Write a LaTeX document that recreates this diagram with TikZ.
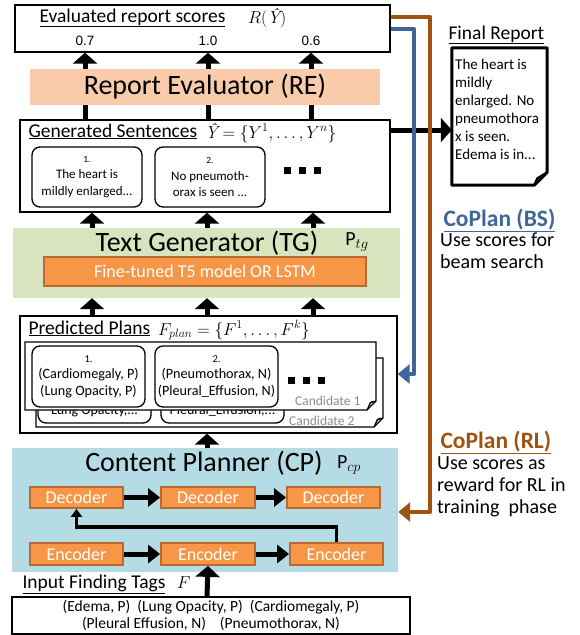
\documentclass[tikz,border=0pt]{standalone}
\usepackage{fontspec}
\setmainfont{Carlito}
\newfontfamily\arialf{Liberation Sans}
\newfontfamily\lmr{Latin Modern Roman}
\usetikzlibrary{arrows.meta}
\newcommand{\fsz}[2]{\fontsize{#1}{#2}\selectfont}
\newcommand{\Yhat}{\mbox{\lmr\itshape Ŷ}}
\definecolor{refill}{HTML}{F9CBAA}
\definecolor{tgfill}{HTML}{D8E4BE}
\definecolor{cpfill}{HTML}{B5DBE5}
\definecolor{orfill}{HTML}{F79646}
\definecolor{ordraw}{HTML}{B96A30}
\definecolor{brn}{HTML}{A0520F}
\definecolor{blu}{HTML}{3E6698}
\tikzset{
  frame/.style={draw=black, line width=1.3pt, fill=white, inner sep=0pt},
  rbox/.style={draw=black, line width=1.3pt, fill=white, rounded corners=8pt, inner sep=0pt, align=center},
  bigarr/.style={line width=5pt, -{Triangle[width=24pt,length=11pt]}},
  midarr/.style={line width=5pt, -{Triangle[width=18pt,length=12pt]}},
  thinarr/.style={line width=3.5pt, -{Triangle[width=11pt,length=8pt]}},
  fbarr/.style={line width=4.5pt, line join=round, -{Triangle[width=19pt,length=12pt]}},
  orbox/.style={fill=orfill, draw=ordraw, line width=1.8pt, text=white, inner sep=0pt, font=\fsz{18}{22}},
  sheet/.style={draw=black, line width=1.2pt, fill=white},
  ttl/.style={anchor=base west, font=\fsz{19.5}{22}},
  mth/.style={anchor=base west, inner sep=0pt, font=\fsz{17.5}{20}},
  big/.style={font=\fsz{28}{32}},
}
\begin{document}
\begin{tikzpicture}[x=1pt,y=-1pt]
\useasboundingbox (0,0) rectangle (579,635);

% ---------- coordinates for columns ----------
\coordinate (s1x) at (85,0);
\coordinate (s2x) at (208,0);
\coordinate (s3x) at (311,0);
\coordinate (t1x) at (92,0);
\coordinate (t2x) at (207,0);
\coordinate (t3x) at (313,0);

% ---------- scores box ----------
\node[frame, minimum width=375pt, minimum height=47pt] (scores) at (202.5,28.5) {};
\node[ttl] (scoresttl) at (36,22) {\underline{Evaluated report scores}};
\node[mth] (rhat) at (248,23) {$R(\Yhat)$};
\node[font=\arialf\fsz{13.5}{15}] (sc1) at (85,41) {0.7};
\node[font=\arialf\fsz{13.5}{15}] (sc2) at (208,41) {1.0};
\node[font=\arialf\fsz{13.5}{15}] (sc3) at (311,41) {0.6};

% ---------- report evaluator ----------
\node[fill=refill, minimum width=350pt, minimum height=36pt, big, inner sep=0pt] (re) at (205,87) {Report Evaluator (RE)};

% ---------- generated sentences ----------
\node[frame, minimum width=370pt, minimum height=92pt] (gen) at (205,166) {};
\node[ttl] (genttl) at (25,137) {\underline{Generated Sentences}};
\node[mth] (genmath) at (205,138) {$\Yhat = \{Y^1, \ldots, Y^n\}$};
\node[rbox, minimum width=110pt, minimum height=60pt, font=\fsz{13}{16.5}] (sent1) at (87,177) {{\fsz{9.5}{16.5}1.}\\The heart is\\mildly enlarged...};
\node[rbox, minimum width=110pt, minimum height=60pt, font=\fsz{13}{16.5}] (sent2) at (210,177) {{\fsz{9.5}{16.5}2.}\\No pneumoth-\\orax is seen ...};
\foreach \dx in {287,302,317} \fill (\dx-3.5,166.5) rectangle (\dx+3.5,173.5);

\foreach \c in {s1x,s2x,s3x} {
  \draw[line width=5pt] (gen.north -| \c) -- (re.south -| \c);
  \draw[bigarr] (re.north -| \c) -- (scores.south -| \c);
}

% ---------- text generator ----------
\node[fill=tgfill, minimum width=387pt, minimum height=70pt, inner sep=0pt] (tg) at (206.5,263) {};
\node[big] (tgttl) at (207,243) {Text Generator (TG)};
\node[font=\fsz{20}{22}] (ptg) at (357,242) {$\mathrm{P}_{tg}$};
\node[orbox, minimum width=322pt, minimum height=29pt] (t5) at (205,271.5) {Fine-tuned T5 model OR LSTM};
\foreach \c in {t1x,t2x,t3x} \draw[bigarr] (tg.north -| \c) -- (gen.south -| \c);

% ---------- predicted plans ----------
\node[frame, minimum width=377pt, minimum height=117pt] (plans) at (208.5,374.5) {};
\foreach \c in {t1x,t2x,t3x} \draw[bigarr] (plans.north -| \c) -- (tg.south -| \c);
\node[ttl] (planttl) at (25,334) {\underline{Predicted Plans}};
\node[mth] (planmath) at (158,335) {$F_{plan} = \{F^1, \ldots, F^k\}$};

% candidate 2 sheet
\draw[sheet] (36,358) -- (383,358) -- (383,418) -- (374,427) -- (36,427) -- cycle;
\filldraw[line width=1pt, fill=black] (374,427) -- (377,420) -- (383,418) -- (378,419) -- cycle;
\node[rbox, minimum width=113pt, minimum height=61pt] (p2a) at (94.5,392.5) {};
\node[rbox, minimum width=123pt, minimum height=61pt] (p2b) at (222.5,392.5) {};
\node[font=\fsz{14}{16}] (p2atext) at (94.5,410.5) {Lung Opacity,...};
\node[font=\fsz{14}{16}] (p2btext) at (222.5,410.5) {Pleural\_Effusion,...};
\node[anchor=east, text=black!45, font=\fsz{13.5}{15}] (c2lbl) at (358,421) {Candidate 2};

% candidate 1 sheet
\draw[sheet] (25,342) -- (376,342) -- (376,401) -- (367,410) -- (25,410) -- cycle;
\filldraw[line width=1pt, fill=black] (367,410) -- (370,403) -- (376,401) -- (371,402) -- cycle;
\node[rbox, minimum width=113pt, minimum height=61pt, font=\fsz{14.2}{16.5}] (p1a) at (88.5,376.5) {{\fsz{10.5}{16.5}1.}\\(Cardiomegaly, P)\\(Lung Opacity, P)};
\node[rbox, minimum width=123pt, minimum height=61pt, font=\fsz{14.2}{16.5}] (p1b) at (216.5,376.5) {{\fsz{10.5}{16.5}2.}\\(Pneumothorax, N)\\(Pleural\_Effusion, N)};
\node[anchor=east, text=black!45, font=\fsz{13.5}{15}] (c1lbl) at (364,401) {Candidate 1};
\foreach \dx in {291,306,321} \fill (\dx-3.5,376.5) rectangle (\dx+3.5,383.5);

% ---------- content planner ----------
\node[fill=cpfill, minimum width=386pt, minimum height=124pt, inner sep=0pt] (cp) at (205,510) {};
\draw[bigarr] (cp.north -| t2x) -- (plans.south -| t2x);
\node[big] (cpttl) at (204,463) {Content Planner (CP)};
\node[font=\fsz{20}{22}] (pcp) at (349,465) {$\mathrm{P}_{cp}$};
\node[orbox, minimum width=93pt, minimum height=21pt] (dec1) at (76.5,497.5) {Decoder};
\node[orbox, minimum width=94pt, minimum height=21pt] (dec2) at (208,497.5) {Decoder};
\node[orbox, minimum width=93pt, minimum height=21pt] (dec3) at (333.5,497.5) {Decoder};
\node[orbox, minimum width=93pt, minimum height=22pt] (enc1) at (76.5,554) {Encoder};
\node[orbox, minimum width=94pt, minimum height=22pt] (enc2) at (208,554) {Encoder};
\node[orbox, minimum width=93pt, minimum height=22pt] (enc3) at (336.5,554) {Encoder};
\draw[midarr] (dec1.east) -- (dec2.west);
\draw[midarr] (dec2.east) -- (dec3.west);
\draw[midarr] (enc1.east) -- (enc2.west);
\draw[midarr] (enc2.east) -- (enc3.west);
\coordinate (fbk) at (76.5,527);
\draw[thinarr] (enc3.north) |- (fbk) -- (dec1.south);

% ---------- input tags ----------
\node[ttl] (inttl) at (19,588) {\underline{Input Finding Tags}};
\node[mth] (inmath) at (177,588) {$F$};
\node[frame, minimum width=398pt, minimum height=37pt, font=\fsz{15.5}{17.5}, align=center] (inp) at (211,615.5) {(Edema, P)\ \ (Lung Opacity, P)\ \ (Cardiomegaly, P)\\(Pleural Effusion, N)\ \ \ \ (Pneumothorax, N)};
\draw[bigarr] (inp.north -| t2x) -- (enc2.south);

% ---------- final report ----------
\node[ttl] (frttl) at (445,39) {\underline{Final Report}};
\node[minimum width=95pt, minimum height=137pt, inner sep=0pt] (doc) at (499.5,116.5) {};
\draw[line width=3pt, line join=round, fill=white] (doc.north west) -- (doc.north east) -- ([yshift=13pt]doc.south east) -- ([xshift=-13pt]doc.south east) -- (doc.south west) -- cycle;
\filldraw[line width=2pt, line join=round, fill=black] ([xshift=-13pt]doc.south east) -- ([xshift=-10pt,yshift=7pt]doc.south east) -- ([yshift=13pt]doc.south east) -- ([xshift=-6pt,yshift=9pt]doc.south east) -- cycle;
\node[anchor=north west, align=left, inner sep=0pt, font=\fsz{15}{18}] (doctext) at (455,59) {The heart is\\mildly\\enlarged. No\\pneumothora\\x is seen.\\Edema is in...};
\coordinate (ry) at (0,130);
\draw[bigarr] (gen.east |- ry) -- (doc.west |- ry);

% ---------- feedback paths ----------
\coordinate (brtop) at (430,17);
\coordinate (brbot) at (430,512);
\coordinate (bltop) at (414,29);
\coordinate (blbot) at (414,374);
\draw[fbarr, draw=brn, color=brn] (scores.east |- brtop) -- (brtop) -- (brbot) -- (cp.east |- brbot);
\draw[fbarr, draw=blu, color=blu] (scores.east |- bltop) -- (bltop) -- (blbot) -- (plans.east |- blbot);

% ---------- CoPlan labels ----------
\node[anchor=base west, font=\fsz{23.5}{26}\bfseries, text=blu] (bsttl) at (440,226) {\underline{CoPlan (BS)}};
\node[anchor=north west, align=left, inner sep=0pt, font=\fsz{20}{22}] (bstext) at (440,233) {Use scores for\\beam search};
\node[anchor=base west, font=\fsz{23.5}{26}\bfseries, text=brn] (rlttl) at (437,448) {\underline{CoPlan (RL)}};
\node[anchor=north west, align=left, inner sep=0pt, font=\fsz{20}{22}] (rltext) at (437,456) {Use scores as\\reward for RL in\\training\ \ phase};
\end{tikzpicture}
\end{document}
